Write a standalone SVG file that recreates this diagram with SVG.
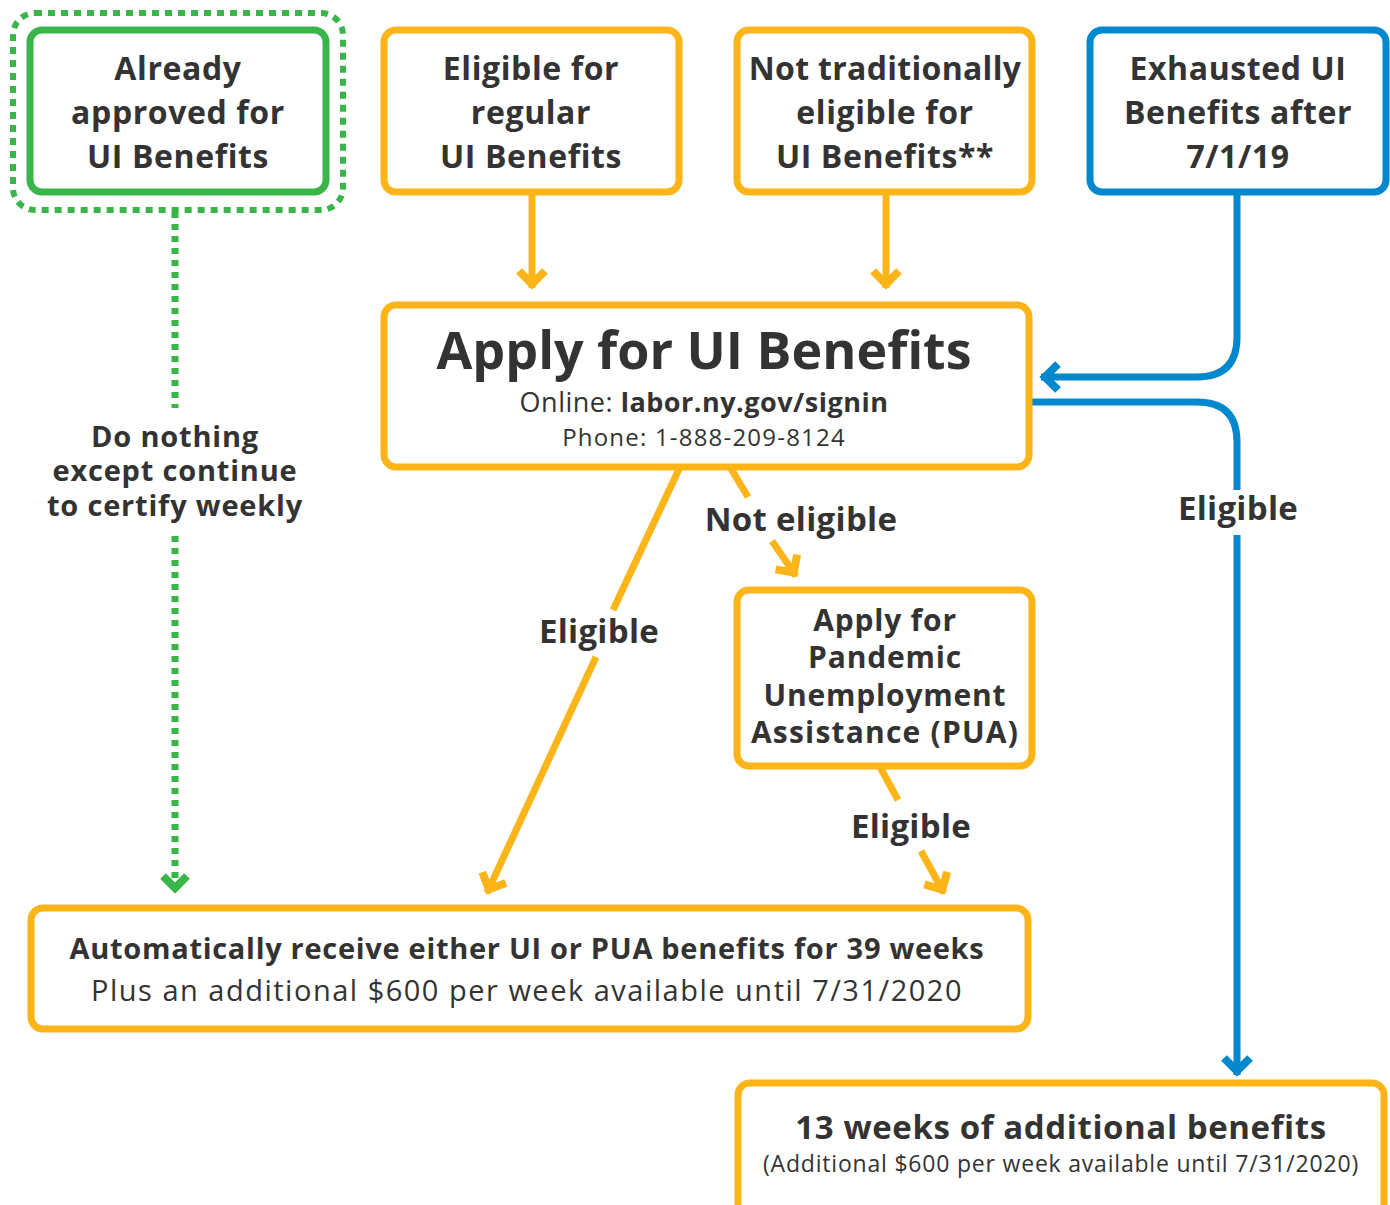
<svg xmlns="http://www.w3.org/2000/svg" width="1390" height="1205" viewBox="0 0 1390 1205">
<style>
.box{fill:#fff;stroke-width:7}
.o{stroke:#FBB519}
.g{stroke:#3AB54A}
.b{stroke:#0088CE}
text{font-family:"Open Sans",Lato,"Liberation Sans",sans-serif;fill:#333;text-anchor:middle}
.h{font-weight:700;font-size:32px;letter-spacing:0.6px}
.lbl{font-weight:700;font-size:33px;letter-spacing:0.3px}
.ln{fill:none;stroke-width:7}
</style>
<defs>
<marker id="ao" markerUnits="userSpaceOnUse" viewBox="-30 -20 40 40" markerWidth="40" markerHeight="40" refX="4" refY="0" orient="auto" overflow="visible">
<path d="M-13,-13 L0,0 L-13,13" fill="none" stroke="#FBB519" stroke-width="8"/>
</marker>
<marker id="ab" markerUnits="userSpaceOnUse" viewBox="-30 -20 40 40" markerWidth="40" markerHeight="40" refX="4" refY="0" orient="auto" overflow="visible">
<path d="M-13,-13 L0,0 L-13,13" fill="none" stroke="#0088CE" stroke-width="8"/>
</marker>
<marker id="ag" markerUnits="userSpaceOnUse" viewBox="-30 -20 40 40" markerWidth="40" markerHeight="40" refX="4" refY="0" orient="auto" overflow="visible">
<path d="M-12,-12 L0,0 L-12,12" fill="none" stroke="#3AB54A" stroke-width="8"/>
</marker>
</defs>
<rect width="1390" height="1205" fill="#fff"/>

<g id="connectors">
<path class="ln g" d="M175,212 V408" stroke-dasharray="6 6"/>
<path class="ln g" d="M175,536 V892" stroke-dasharray="6 6" marker-end="url(#ag)"/>
<path class="ln o" d="M532,192 V288" marker-end="url(#ao)"/>
<path class="ln o" d="M886,192 V288" marker-end="url(#ao)"/>
<path class="ln b" d="M1237,192 V337 Q1237,377 1197,377 H1041" marker-end="url(#ab)"/>
<path class="ln b" d="M1030,402 H1197 Q1237,402 1237,442 V490"/>
<path class="ln b" d="M1237,535 V1075" marker-end="url(#ab)"/>
<path class="ln o" d="M680,467 L613,610"/>
<path class="ln o" d="M596,657 L487,893" marker-end="url(#ao)"/>
<path class="ln o" d="M730,467 L748,497"/>
<path class="ln o" d="M772,541 L796,576" marker-end="url(#ao)"/>
<path class="ln o" d="M880,767 L898,800"/>
<path class="ln o" d="M921,851 L944,893" marker-end="url(#ao)"/>
<text class="lbl" style="font-size:29px;letter-spacing:0.8px"><tspan x="175" y="447">Do nothing</tspan><tspan x="175" y="481">except continue</tspan><tspan x="175" y="516">to certify weekly</tspan></text>
<text class="lbl" x="599" y="643">Eligible</text>
<text class="lbl" x="801" y="531">Not eligible</text>
<text class="lbl" x="911" y="838">Eligible</text>
<text class="lbl" x="1238" y="520">Eligible</text>
</g>

<g id="already">
<rect x="13" y="13" width="330" height="197" rx="22" fill="none" stroke="#3AB54A" stroke-width="6" stroke-dasharray="7 6"/>
<rect class="box g" x="30" y="30" width="296" height="162" rx="12"/>
<text class="h"><tspan x="178" y="80">Already</tspan><tspan x="178" y="124">approved for</tspan><tspan x="178" y="168">UI Benefits</tspan></text>
</g>

<g id="regular">
<rect class="box o" x="384" y="30" width="295" height="162" rx="12"/>
<text class="h"><tspan x="531" y="80">Eligible for</tspan><tspan x="531" y="124">regular</tspan><tspan x="531" y="168">UI Benefits</tspan></text>
</g>

<g id="nottrad">
<rect class="box o" x="737" y="30" width="295" height="162" rx="12"/>
<text class="h"><tspan x="885" y="80" style="letter-spacing:0.3px">Not traditionally</tspan><tspan x="885" y="124">eligible for</tspan><tspan x="885" y="168">UI Benefits**</tspan></text>
</g>

<g id="exhausted">
<rect class="box b" x="1090" y="30" width="296" height="162" rx="12"/>
<text class="h"><tspan x="1238" y="80">Exhausted UI</tspan><tspan x="1238" y="124">Benefits after</tspan><tspan x="1238" y="168">7/1/19</tspan></text>
</g>

<g id="apply">
<rect class="box o" x="384" y="305" width="645" height="162" rx="12"/>
<text x="704" y="369" style="font-weight:700;font-size:52px">Apply for UI Benefits</text>
<text x="704" y="412" style="font-size:27px;letter-spacing:0.5px">Online: <tspan style="font-weight:700">labor.ny.gov/signin</tspan></text>
<text x="704" y="446" style="font-size:24px;letter-spacing:1.2px">Phone: 1-888-209-8124</text>
</g>

<g id="pua">
<rect class="box o" x="737" y="590" width="295" height="176" rx="12"/>
<text class="h" style="font-size:30px;letter-spacing:0.8px"><tspan x="885" y="631">Apply for</tspan><tspan x="885" y="668">Pandemic</tspan><tspan x="885" y="706">Unemployment</tspan><tspan x="885" y="743" style="letter-spacing:1.2px">Assistance (PUA)</tspan></text>
</g>

<g id="auto">
<rect class="box o" x="31" y="908" width="997" height="121" rx="12"/>
<text x="527" y="959" style="font-weight:700;font-size:29px;letter-spacing:0.7px">Automatically receive either UI or PUA benefits for 39 weeks</text>
<text x="527" y="1001" style="font-size:29px;letter-spacing:1.5px">Plus an additional $600 per week available until 7/31/2020</text>
</g>

<g id="thirteen">
<rect class="box o" x="738" y="1083" width="646" height="140" rx="12"/>
<text x="1061" y="1139" style="font-weight:700;font-size:33px;letter-spacing:0.6px">13 weeks of additional benefits</text>
<text x="1061" y="1172" style="font-size:23px;letter-spacing:0.8px">(Additional $600 per week available until 7/31/2020)</text>
</g>
</svg>
